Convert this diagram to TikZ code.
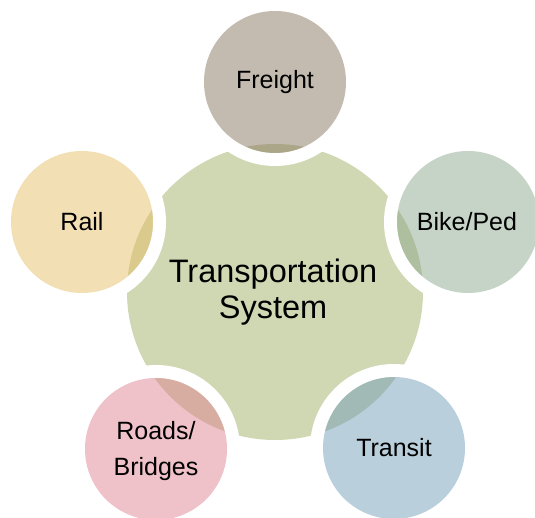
\documentclass[tikz,border=0pt]{standalone}
\usepackage{fontspec}
\setmainfont{Liberation Sans}
\definecolor{cgreen}{RGB}{208,215,179}
\definecolor{cfreight}{RGB}{135,119,95}
\definecolor{crail}{RGB}{229,191,103}
\definecolor{cbike}{RGB}{141,169,143}
\definecolor{croads}{RGB}{223,131,145}
\definecolor{ctransit}{RGB}{117,159,185}
\begin{document}
\begin{tikzpicture}[x=1pt,y=-1pt,
  outerfill/.style={fill=#1,fill opacity=0.5,draw=none},
  gapring/.style={draw=white,line width=13pt},
  outerlabel/.style={font=\fontsize{25}{36}\selectfont,align=center,text=black},
  centerlabel/.style={font=\fontsize{32.5}{36}\selectfont,align=center,text=black}]
\useasboundingbox (0,0) rectangle (535,518);
% central circle
\fill[cgreen] (275,292) circle[radius=148];
% white gaps around outer circles
\foreach \x/\y in {275/82, 82/222, 468/222, 156/449, 394/448}
  \draw[gapring] (\x,\y) circle[radius=77.5];
% outer circles
\fill[outerfill=cfreight] (275,82) circle[radius=71];
\fill[outerfill=crail] (82,222) circle[radius=71];
\fill[outerfill=cbike] (468,222) circle[radius=71];
\fill[outerfill=croads] (156,449) circle[radius=71];
\fill[outerfill=ctransit] (394,448) circle[radius=71];
% labels
\node[centerlabel] (sys) at (273,292) {Transportation\\System};
\node[outerlabel] (freight) at (275,82) {Freight};
\node[outerlabel] (rail) at (82,222) {Rail};
\node[outerlabel] (bike) at (467,222) {Bike/Ped};
\node[outerlabel] (roads) at (156,451) {Roads/\\Bridges};
\node[outerlabel] (transit) at (394,448) {Transit};
\end{tikzpicture}
\end{document}
